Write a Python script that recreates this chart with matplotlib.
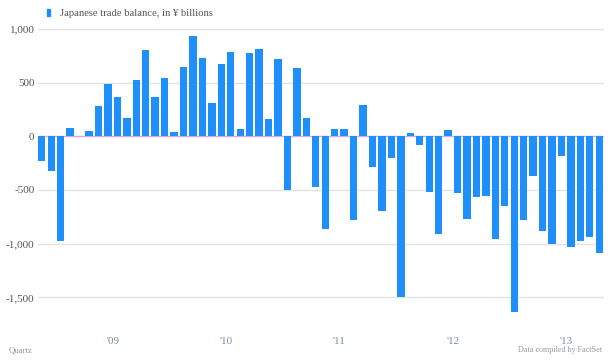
import matplotlib
matplotlib.use("Agg")
import matplotlib.pyplot as plt
from matplotlib.patches import Rectangle
import pandas as pd

months = pd.period_range("2008-11", "2013-10", freq="M")
values = [-227, -320, -971, 74, 2, 49, 282, 489, 368, 167,
          521, 800, 363, 542, 40, 642, 933, 731, 310, 673,
          784, 65, 775, 815, 161, 719, -500, 635, 170, -475,
          -860, 68, 68, -776, 288, -283, -692, -205, -1495, 28,
          -84, -518, -906, 56, -530, -769, -567, -555, -958, -645,
          -1637, -779, -366, -884, -1002, -180, -1030, -971, -937, -1088]
year_labels = ["'09", "'10", "'11", "'12", "'13"]
years = [2009, 2010, 2011, 2012, 2013]
y_ticks = [-1500, -1000, -500, 0, 500, 1000]
y_ticklabels = ["-1,500", "-1,000", "-500", "0", "500", "1,000"]
legend_label = "Japanese trade balance, in \u00a5 billions"

BAR = "#1f8ffc"
FONT = "Liberation Serif"

fig = plt.figure(figsize=(6.16, 3.64), dpi=100)
ax = fig.add_axes([0.0617, 0.1242, 0.9188, 0.7961])

x = list(range(len(values)))
ax.bar(x, values, width=0.78, color=BAR, zorder=3, linewidth=0)
ax.set_xlim(-0.4, 59.5)
ax.set_ylim(-1700, 1000)

for v in y_ticks:
    if v == 0:
        ax.axhline(v, color="#e2a8ee", lw=1.0, zorder=2)
    else:
        ax.axhline(v, color="#e3e3e3", lw=1.0, zorder=1)

ax.set_yticks(y_ticks)
ax.set_yticklabels(y_ticklabels, fontfamily=FONT, fontsize=8, color="#555555")
month_index = {str(p): i for i, p in enumerate(months)}
xt = [month_index[f"{y}-01"] + 5.5 for y in years]
ax.set_xticks(xt)
ax.set_xticklabels(year_labels, fontfamily=FONT, fontsize=8, color="#7b90a8")
ax.tick_params(axis="y", length=0, pad=2.5)
ax.tick_params(axis="x", length=0, pad=13)
for s in ax.spines.values():
    s.set_visible(False)

fig.patches.append(Rectangle((46.5 / 616, 1 - 15.5 / 364), 3.5 / 616, 6 / 364,
                             transform=fig.transFigure, color=BAR))
fig.text(60 / 616, 1 - 13 / 364, legend_label, fontfamily=FONT, fontsize=7.7,
         color="#555555", va="center", ha="left")
fig.text(9 / 616, 1 - 350 / 364, "Quartz", fontfamily=FONT, fontsize=6.3,
         color="#999999", va="center", ha="left")
fig.text(602 / 616, 1 - 350 / 364, "Data compiled by FactSet", fontfamily=FONT,
         fontsize=5.9, color="#999999", va="center", ha="right")

fig.savefig("out.png", dpi=100)
